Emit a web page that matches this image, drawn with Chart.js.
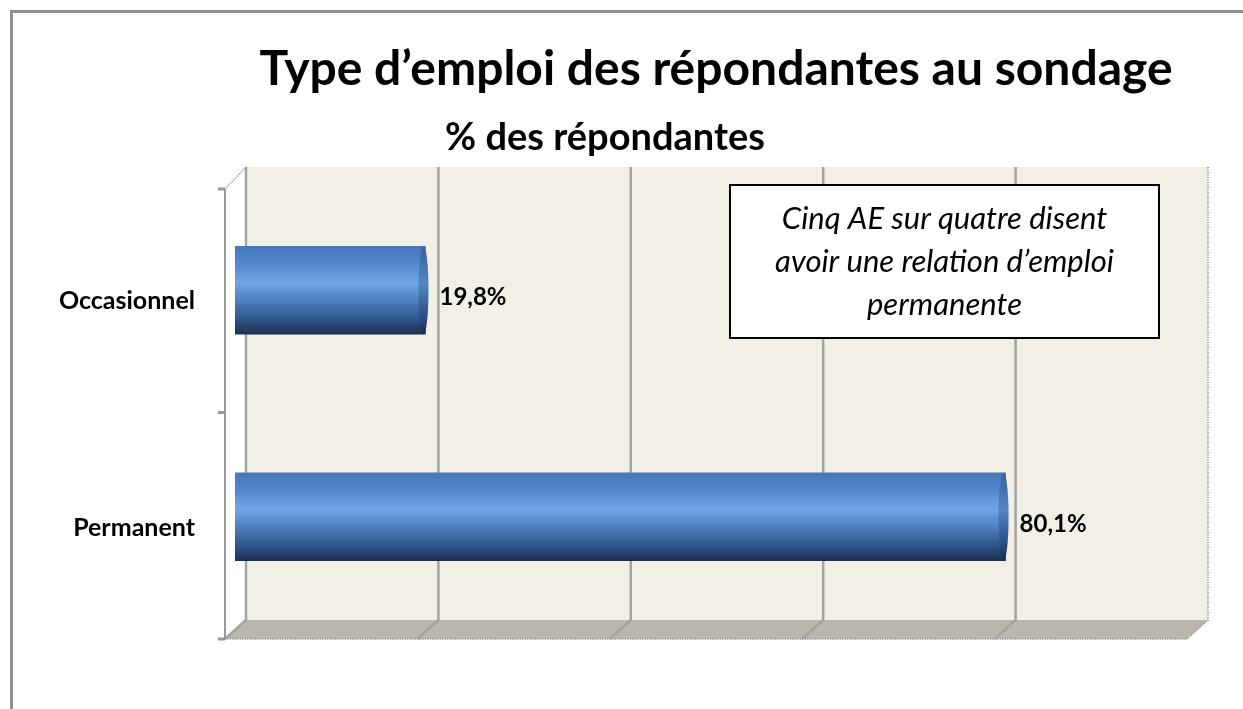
<!DOCTYPE html>
<html>
<head>
<meta charset="utf-8">
<script src="https://cdn.jsdelivr.net/npm/chart.js@4.4.1/dist/chart.umd.min.js"></script>
<style>
  html, body { margin: 0; padding: 0; background: #fff; }
  #wrap { position: relative; width: 1243px; height: 709px; overflow: hidden; }
  #frame { position: absolute; left: 10px; top: 10px; width: 1400px; height: 900px;
           border-left: 3px solid #8f8f8f; border-top: 3px solid #8f8f8f; }
  canvas { position: absolute; left: 0; top: 0; }
</style>
</head>
<body>
<div id="wrap">
  <div id="frame"></div>
  <canvas id="typeChart" width="1243" height="709"></canvas>
</div>
<script>
const categories = ['Occasionnel', 'Permanent'];
const percentValues = [19.8, 80.1];
const gridValues = [0, 20, 40, 60, 80, 100];
const subtitleText = '% des répondantes';
const noteLines = ['Cinq AE sur quatre disent', 'avoir une relation d\u2019emploi', 'permanente'];

const FONT = 'Lato, "Open Sans", sans-serif';
const BAR_H = 88;
const back = { dx: 11, dy: -10 };   // back wall offset from the chart area
const front = { dx: -10, dy: 9 };   // front edge offset
let barFills = [];

// 3D-ish wall, floor, grid and the left axis
const wallPlugin = {
  id: 'wall',
  afterLayout(chart) {
    const ctx = chart.ctx, y = chart.scales.y;
    barFills = categories.map((c, i) => {
      const cy = y.getPixelForValue(i);
      const g = ctx.createLinearGradient(0, cy - BAR_H / 2, 0, cy + BAR_H / 2);
      g.addColorStop(0, '#4677b8');
      g.addColorStop(0.2, '#5289cc');
      g.addColorStop(0.42, '#6ea6e6');
      g.addColorStop(0.6, '#4f82c3');
      g.addColorStop(0.82, '#30578e');
      g.addColorStop(1, '#1c304f');
      return g;
    });
  },
  beforeDatasetsDraw(chart) {
    const ctx = chart.ctx, a = chart.chartArea, x = chart.scales.x;
    ctx.save();
    // back wall
    ctx.fillStyle = '#f2efe4';
    ctx.fillRect(a.left + back.dx, a.top + back.dy, a.right - a.left, a.bottom - a.top);
    // floor
    ctx.fillStyle = '#b9b6ae';
    ctx.beginPath();
    ctx.moveTo(a.left + back.dx, a.bottom + back.dy);
    ctx.lineTo(a.right + back.dx, a.bottom + back.dy);
    ctx.lineTo(a.right + front.dx, a.bottom + front.dy);
    ctx.lineTo(a.left + front.dx, a.bottom + front.dy);
    ctx.closePath();
    ctx.fill();
    // grid lines on wall and floor
    ctx.strokeStyle = '#a3a3a3';
    ctx.lineWidth = 2.5;
    gridValues.slice(0, -1).forEach(v => {
      const px = x.getPixelForValue(v);
      ctx.beginPath();
      ctx.moveTo(px + back.dx, a.top + back.dy);
      ctx.lineTo(px + back.dx, a.bottom + back.dy);
      ctx.lineTo(px + front.dx, a.bottom + front.dy);
      ctx.stroke();
    });
    // dotted outer edges
    ctx.setLineDash([1, 1.5]);
    ctx.lineWidth = 2;
    ctx.strokeStyle = '#9a9a9a';
    ctx.beginPath();
    ctx.moveTo(a.right + back.dx, a.top + back.dy);
    ctx.lineTo(a.right + back.dx, a.bottom + back.dy);
    ctx.lineTo(a.right + front.dx, a.bottom + front.dy);
    ctx.lineTo(a.left + front.dx, a.bottom + front.dy);
    ctx.stroke();
    ctx.beginPath();
    ctx.moveTo(a.left + front.dx, a.top + front.dy + 3);
    ctx.lineTo(a.left + back.dx, a.top + back.dy);
    ctx.stroke();
    ctx.setLineDash([]);
    // left axis line and ticks
    ctx.strokeStyle = '#999';
    ctx.lineWidth = 2;
    const ax = a.left + front.dx;
    ctx.beginPath();
    ctx.moveTo(ax, a.top + front.dy + 3);
    ctx.lineTo(ax, a.bottom + front.dy);
    ctx.stroke();
    ctx.lineWidth = 3;
    const step = (a.bottom - a.top) / categories.length;
    for (let i = 0; i <= categories.length; i++) {
      const ty = a.top + i * step + front.dy + (i === 0 ? 3 : 0);
      ctx.beginPath();
      ctx.moveTo(ax - 7, ty);
      ctx.lineTo(ax, ty);
      ctx.stroke();
    }
    ctx.restore();
  },
  afterDatasetsDraw(chart) {
    const ctx = chart.ctx, a = chart.chartArea;
    const meta = chart.getDatasetMeta(0);
    ctx.save();
    meta.data.forEach((el, i) => {
      // rounded cap at the end of the cylinder
      ctx.beginPath();
      ctx.ellipse(el.x - 2, el.y, 5, el.height / 2, 0, 0, Math.PI * 2);
      ctx.fillStyle = barFills[i];
      ctx.fill();
      ctx.fillStyle = 'rgba(20,40,80,0.25)';
      ctx.fill();
      // value label
      ctx.fillStyle = '#000';
      ctx.font = 'bold 24px ' + FONT;
      ctx.textAlign = 'left';
      ctx.textBaseline = 'alphabetic';
      ctx.fillText(percentValues[i].toFixed(1).replace('.', ',') + '%', el.x + 14, el.y + 15);
    });
    // note box
    const bx = a.left + 495, by = a.top + 8, bw = 429, bh = 153;
    ctx.fillStyle = '#fff';
    ctx.fillRect(bx, by, bw, bh);
    ctx.strokeStyle = '#000';
    ctx.lineWidth = 2;
    ctx.strokeRect(bx, by, bw, bh);
    ctx.fillStyle = '#000';
    ctx.font = 'italic 31px ' + FONT;
    ctx.textAlign = 'center';
    noteLines.forEach((t, i) => ctx.fillText(t, bx + bw / 2, by + 44 + i * 43));
    // subtitle line, under the title
    ctx.font = 'bold 38px ' + FONT;
    ctx.textAlign = 'left';
    ctx.fillText(subtitleText, a.left + 210, 150);
    ctx.restore();
  }
};

const chart = new Chart(document.getElementById('typeChart'), {
  type: 'bar',
  data: {
    labels: categories,
    datasets: [{
      data: percentValues,
      backgroundColor: c => barFills[c.dataIndex] || '#4f81bd',
      borderWidth: 0,
      barThickness: BAR_H
    }]
  },
  options: {
    indexAxis: 'y',
    responsive: false,
    animation: false,
    layout: { padding: { top: 0, left: 0, right: 46, bottom: 79 } },
    scales: {
      x: {
        min: 0, max: 100,
        ticks: { display: false },
        grid: { display: false },
        border: { display: false },
        afterFit: s => { s.height = 0; }
      },
      y: {
        ticks: {
          color: '#000',
          padding: 40,
          labelOffset: 11,
          font: { family: FONT, size: 25, weight: 'bold' }
        },
        grid: { display: false, drawTicks: false },
        border: { display: false },
        afterFit: s => { s.width = 235; }
      }
    },
    plugins: {
      legend: { display: false },
      tooltip: { enabled: false },
      title: {
        display: true,
        fullSize: false,
        text: 'Type d\u2019emploi des répondantes au sondage',
        color: '#000',
        font: { family: FONT, size: 48, weight: 'bold', lineHeight: 1.2 },
        padding: { top: 41, bottom: 78.4 }
      }
    }
  },
  plugins: [wallPlugin]
});
</script>
</body>
</html>
